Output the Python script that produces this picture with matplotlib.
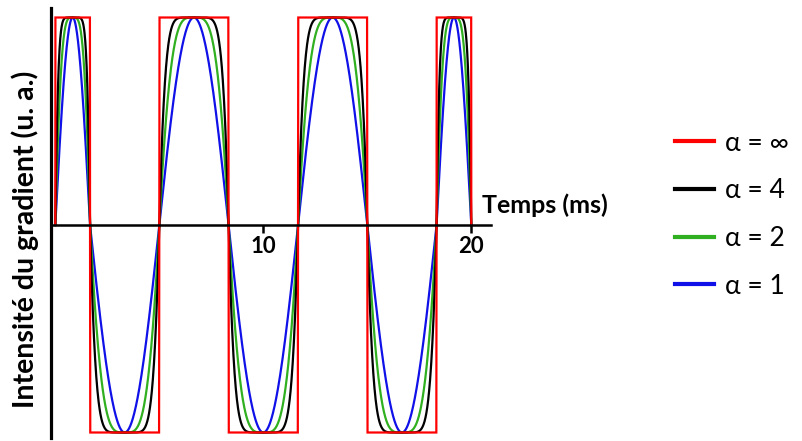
import numpy as np
import matplotlib
matplotlib.use("Agg")
import matplotlib.pyplot as plt

# lobe boundaries of the gradient waveform (ms) and lobe polarity
lobe_edges = [0.0, 1.67, 5.0, 8.33, 11.67, 15.0, 18.33, 20.0]
lobe_signs = [1, -1, 1, -1, 1, -1, 1]

# shape parameter of each curve, drawn back to front
alphas = [1, 2, 4, np.inf]
labels = {1: "α = 1", 2: "α = 2", 4: "α = 4", np.inf: "α = ∞"}
colors = {1: "#1010e8", 2: "#30b020", 4: "#000000", np.inf: "#ff0000"}

xticks = [10, 20]


def waveform(alpha, n=300):
    ts, gs = [], []
    for a, b, sgn in zip(lobe_edges[:-1], lobe_edges[1:], lobe_signs):
        t = np.linspace(a, b, n)
        s = np.clip(np.sin(np.pi * (t - a) / (b - a)), 0, 1)
        s[0] = s[-1] = 0
        if np.isinf(alpha):
            g = np.where(s > 0, 1.0, 0.0)
        else:
            g = 1 - (1 - s) ** alpha
        ts.append(t)
        gs.append(sgn * g)
    return np.concatenate(ts), np.concatenate(gs)


plt.rcParams['font.family'] = ['Lato', 'DejaVu Sans']

W, H = 802, 441
fig = plt.figure(figsize=(W / 100, H / 100), dpi=100)

# axes box in pixels: left 51, right 491, top 8, bottom 438
ax = fig.add_axes([51 / W, 1 - 438 / H, (491 - 51) / W, (438 - 8) / H])

px_per_ms = 20.8
ax.set_xlim(-4.3 / px_per_ms, (491 - 55.3) / px_per_ms)
unit = 207.5
ax.set_ylim(-213 / unit, 217 / unit)

lines = {}
for al in alphas:
    t, g = waveform(al)
    lines[al], = ax.plot(t, g, color=colors[al], lw=1.6, label=labels[al],
                         solid_joinstyle="miter")

for side in ["top", "right"]:
    ax.spines[side].set_visible(False)
ax.spines["bottom"].set_position(("data", 0))
ax.spines["left"].set_linewidth(2.3)
ax.spines["bottom"].set_linewidth(1.8)

ax.set_yticks([])
ax.set_xticks(xticks)
ax.set_xticklabels([str(v) for v in xticks], fontweight="bold")
ax.tick_params(axis="x", direction="out", length=6, width=1.8, labelsize=16, pad=2)

fig.text(482 / W, 1 - 205 / H, "Temps (ms)", fontsize=18, fontweight="bold",
         ha="left", va="center")
fig.text(25 / W, 1 - 239 / H, "Intensité du gradient (u. a.)", fontsize=20.5,
         fontweight="bold", rotation=90, ha="center", va="center")

order = [np.inf, 4, 2, 1]
leg = fig.legend([lines[a] for a in order], [labels[a] for a in order],
                 loc="upper left", bbox_to_anchor=(664 / W, 1 - 120 / H),
                 frameon=False, fontsize=19, handlelength=1.5, handletextpad=0.4,
                 labelspacing=0.86, borderaxespad=0)
for h in leg.legend_handles:
    h.set_linewidth(3)

fig.savefig("out.png", dpi=100)
